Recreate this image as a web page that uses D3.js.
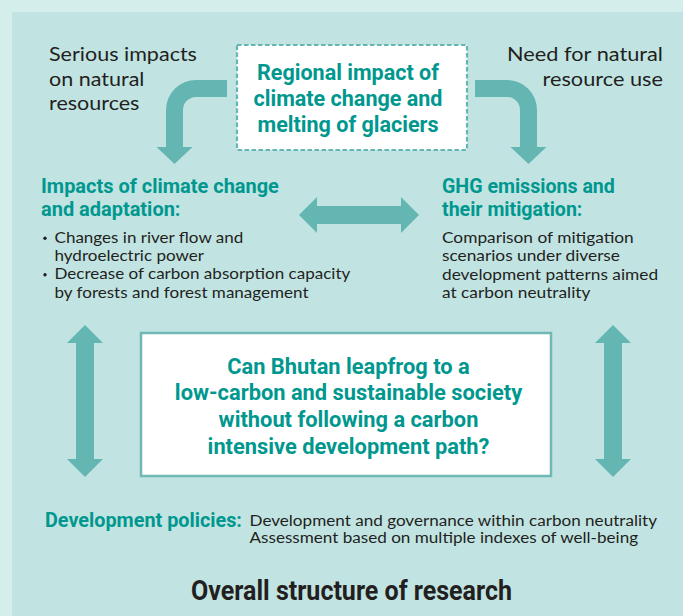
<!DOCTYPE html>
<html>
<head>
<meta charset="utf-8">
<script src="https://cdn.jsdelivr.net/npm/d3@7"></script>
<style>
  body { margin: 0; background: #d4eeeb; }
</style>
</head>
<body>
<div id="chart"></div>
<script>
// ── Texts of the diagram ─────────────────────
const TOP_LEFT_NOTE   = ["Serious impacts", "on natural", "resources"];
const TOP_RIGHT_NOTE  = ["Need for natural", "resource use"];
const CENTER_TOPIC    = ["Regional impact of", "climate change and", "melting of glaciers"];
const LEFT_HEADER     = ["Impacts of climate change", "and adaptation:"];
const RIGHT_HEADER    = ["GHG emissions and", "their mitigation:"];
const LEFT_BULLETS    = [["Changes in river flow and", "hydroelectric power"],
                         ["Decrease of carbon absorption capacity", "by forests and forest management"]];
const RIGHT_BODY      = ["Comparison of mitigation", "scenarios under diverse",
                         "development patterns aimed", "at carbon neutrality"];
const QUESTION        = ["Can Bhutan leapfrog to a", "low-carbon and sustainable society",
                         "without following a carbon", "intensive development path?"];
const POLICY_LABEL    = ["Development policies:"];
const POLICY_BODY     = ["Development and governance within carbon neutrality",
                         "Assessment based on multiple indexes of well-being"];
const TITLE           = ["Overall structure of research"];

const W = 683, H = 616;
const C = {
  frame: "#d4eeeb", panel: "#c1e4e3", arrow: "#63b6b2",
  teal: "#00978f", dark: "#231f20", boxLine: "#6fb8b4"
};
const BOLD = "Roboto, 'Liberation Sans', sans-serif";
const REG  = "Lato, 'Open Sans', sans-serif";

const svg = d3.select("#chart").append("svg")
  .attr("width", W).attr("height", H)
  .style("display", "block");

// ── Background ───────────────────────────────
svg.append("rect").attr("width", W).attr("height", H).attr("fill", C.frame);
svg.append("rect").attr("x", 12).attr("y", 12)
  .attr("width", W - 12).attr("height", H - 12).attr("fill", C.panel);

// ── Boxes ────────────────────────────────────
svg.append("rect").attr("x", 237).attr("y", 45).attr("width", 230).attr("height", 105)
  .attr("fill", "#fff").attr("stroke", C.arrow).attr("stroke-width", 2.2)
  .attr("stroke-dasharray", "4.5,2.5");
svg.append("rect").attr("x", 141).attr("y", 333).attr("width", 410).attr("height", 143)
  .attr("fill", "#fff").attr("stroke", C.boxLine).attr("stroke-width", 2.5);

// ── Arrows ───────────────────────────────────
function curvedArrow(bandEnd, cx, dir) {
  // dir = -1 : band comes from the right, bends down on the left
  const R = 30, r = 13, half = 8.5, headHalf = 18, shaftEnd = 147, tip = 164;
  const ox = cx + dir * half;      // outer shaft edge
  const ix = cx - dir * half;      // inner shaft edge
  const ccx = ox - dir * R;        // arc center x
  const ccy = 110;
  const p = d3.path();
  p.moveTo(bandEnd, ccy - R);
  p.lineTo(ccx, ccy - R);
  if (dir < 0) p.arc(ccx, ccy, R, -Math.PI / 2, -Math.PI, true);
  else         p.arc(ccx, ccy, R, -Math.PI / 2, 0, false);
  p.lineTo(ox, shaftEnd);
  p.lineTo(cx + dir * headHalf, shaftEnd);
  p.lineTo(cx, tip);
  p.lineTo(cx - dir * headHalf, shaftEnd);
  p.lineTo(ix, shaftEnd);
  p.lineTo(ix, ccy);
  if (dir < 0) p.arc(ccx, ccy, r, Math.PI, Math.PI * 1.5, false);
  else         p.arc(ccx, ccy, r, 0, -Math.PI / 2, true);
  p.lineTo(bandEnd, ccy - r);
  p.closePath();
  return p.toString();
}

function doubleArrow(a, b, c, horizontal) {
  // a..b along the axis, c = center on the cross axis
  const head = 18, hw = 18, sw = 9;
  const pts = [
    [a, c], [a + head, c - hw], [a + head, c - sw], [b - head, c - sw], [b - head, c - hw],
    [b, c], [b - head, c + hw], [b - head, c + sw], [a + head, c + sw], [a + head, c + hw]
  ];
  const line = d3.line();
  return line(horizontal ? pts : pts.map(([u, v]) => [v, u])) + "Z";
}

const arrows = svg.append("g").attr("fill", C.arrow);
arrows.append("path").attr("d", curvedArrow(227, 174.5, -1));
arrows.append("path").attr("d", curvedArrow(475, 528.5, 1));
arrows.append("path").attr("d", doubleArrow(299, 419, 215, true));
arrows.append("path").attr("d", doubleArrow(325, 477, 85, false));
arrows.append("path").attr("d", doubleArrow(325, 477, 613, false));

// ── Text blocks (width-fitted, condensed) ────
function textBlock(lines, o) {
  const g = svg.append("g");
  const texts = lines.map(s => g.append("text")
    .attr("font-family", o.font).attr("font-weight", o.weight || 400)
    .attr("font-size", o.size).attr("fill", o.fill)
    .attr("text-anchor", o.anchor || "start").text(s));
  const natural = texts[o.ref || 0].node().getComputedTextLength();
  const sx = o.refW ? o.refW / natural : 1;
  texts.forEach((t, i) => t.attr("transform",
    `translate(${o.x},${o.y + i * o.dy}) scale(${sx},1)`));
  return g;
}

textBlock(TOP_LEFT_NOTE, { x: 49, y: 61, dy: 24.5, size: 19, font: REG, fill: C.dark, refW: 148 });
textBlock(TOP_RIGHT_NOTE, { x: 663, y: 61, dy: 24.5, size: 19, font: REG, fill: C.dark,
  anchor: "end", refW: 156 });
textBlock(CENTER_TOPIC, { x: 348, y: 79.5, dy: 26, size: 22, font: BOLD, weight: 700,
  fill: C.teal, anchor: "middle", refW: 182 });
textBlock(LEFT_HEADER, { x: 41, y: 193, dy: 22.5, size: 21, font: BOLD, weight: 700,
  fill: C.teal, refW: 238 });
textBlock(RIGHT_HEADER, { x: 442, y: 193, dy: 22.5, size: 21, font: BOLD, weight: 700,
  fill: C.teal, refW: 173 });

const bulletLines = LEFT_BULLETS.flat();
textBlock(bulletLines, { x: 54.5, y: 242.7, dy: 18.3, size: 15.5, font: REG, fill: C.dark,
  ref: 2, refW: 296 });
let row = 0;
LEFT_BULLETS.forEach(item => {
  svg.append("circle").attr("cx", 45).attr("cy", 242.7 - 4.5 + row * 18.3)
    .attr("r", 1.7).attr("fill", C.dark);
  row += item.length;
});
textBlock(RIGHT_BODY, { x: 442, y: 242.7, dy: 18.4, size: 15.5, font: REG, fill: C.dark, refW: 192 });

textBlock(QUESTION, { x: 348.5, y: 373.5, dy: 26.8, size: 22, font: BOLD, weight: 700,
  fill: C.teal, anchor: "middle", ref: 1, refW: 347.6 });

textBlock(POLICY_LABEL, { x: 45, y: 527, dy: 0, size: 21, font: BOLD, weight: 700,
  fill: C.teal, refW: 197 });
textBlock(POLICY_BODY, { x: 249.5, y: 525.5, dy: 17.8, size: 16, font: REG, fill: C.dark, refW: 408 });

textBlock(TITLE, { x: 351.5, y: 600, dy: 0, size: 28, font: BOLD, weight: 700,
  fill: C.dark, anchor: "middle", refW: 321 });
</script>
</body>
</html>
